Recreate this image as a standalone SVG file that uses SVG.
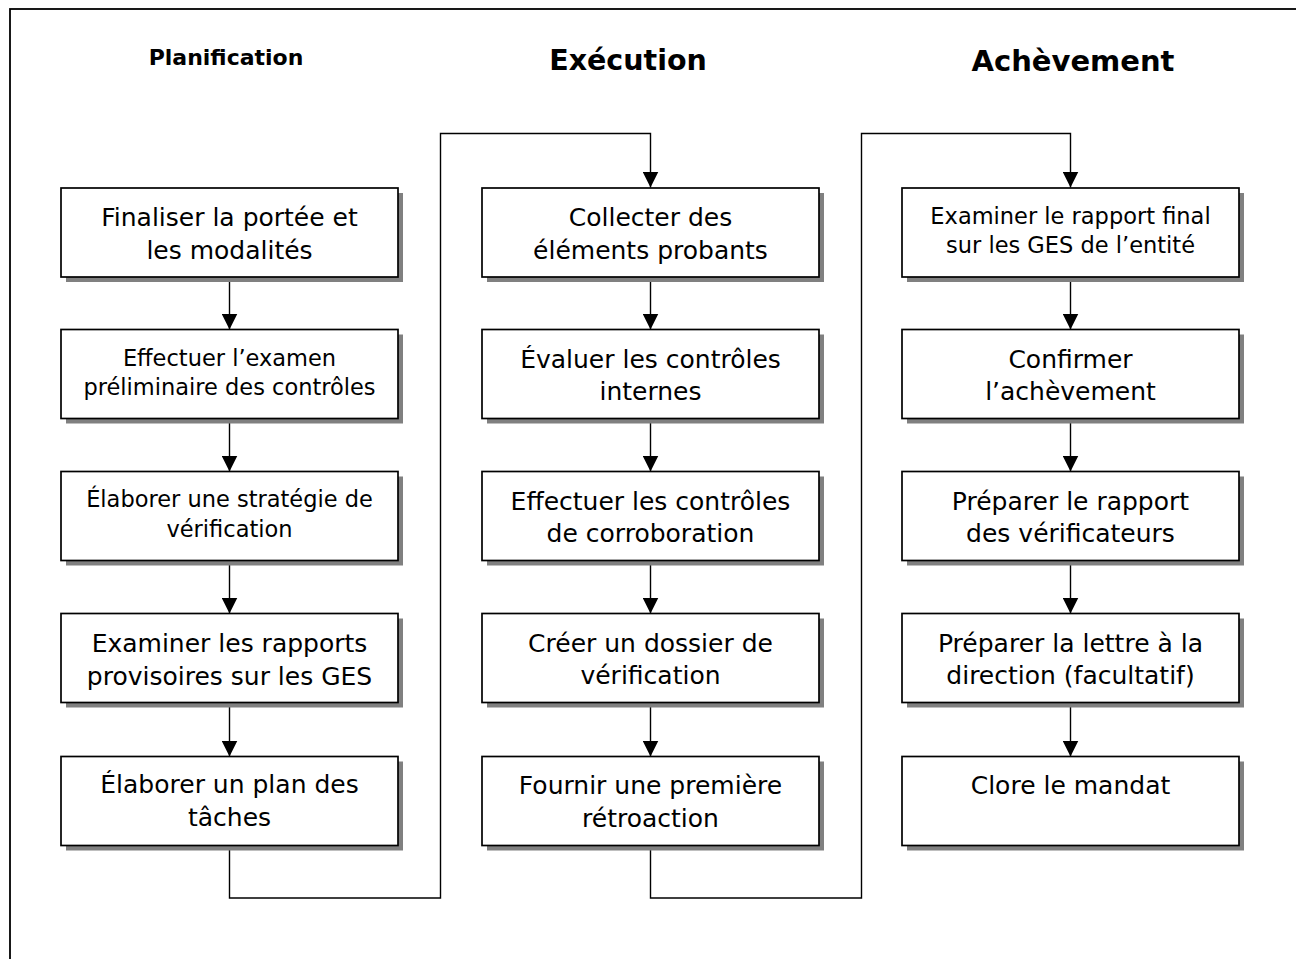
<svg xmlns="http://www.w3.org/2000/svg" width="1296" height="959" viewBox="0 0 1296 959">
<style>
.frame{fill:none;stroke:#000;stroke-width:1.8}
.sh{fill:#808080}
.bx{fill:#fff;stroke:#000;stroke-width:1.7}
.t{font-family:"DejaVu Sans",sans-serif;font-size:25px;fill:#000;text-anchor:middle}
.s{font-family:"DejaVu Sans",sans-serif;font-size:22.5px;fill:#000;text-anchor:middle}
.h{font-family:"DejaVu Sans",sans-serif;font-weight:bold;fill:#000;text-anchor:middle}
.c{fill:none;stroke:#000;stroke-width:1.4}
</style>
<defs>
<marker id="ah" markerUnits="userSpaceOnUse" markerWidth="16" markerHeight="16" viewBox="0 0 16 16" refX="16" refY="8" orient="auto">
<path d="M0,0 L16,8 L0,16 Z" fill="#000"/>
</marker>
</defs>
<rect class="frame" x="10" y="9" width="1400" height="1100"/>
<g id="headers">
<text class="h" x="226" y="65" font-size="22">Planification</text>
<text class="h" x="628" y="70" font-size="28.5">Exécution</text>
<text class="h" x="1073" y="71" font-size="29">Achèvement</text>
</g>
<g id="connectors">
<line class="c" x1="229.5" y1="277" x2="229.5" y2="329.5" marker-end="url(#ah)"/>
<line class="c" x1="229.5" y1="418.5" x2="229.5" y2="471.5" marker-end="url(#ah)"/>
<line class="c" x1="229.5" y1="560.5" x2="229.5" y2="613.5" marker-end="url(#ah)"/>
<line class="c" x1="229.5" y1="702.5" x2="229.5" y2="756.5" marker-end="url(#ah)"/>
<line class="c" x1="650.5" y1="277" x2="650.5" y2="329.5" marker-end="url(#ah)"/>
<line class="c" x1="650.5" y1="418.5" x2="650.5" y2="471.5" marker-end="url(#ah)"/>
<line class="c" x1="650.5" y1="560.5" x2="650.5" y2="613.5" marker-end="url(#ah)"/>
<line class="c" x1="650.5" y1="702.5" x2="650.5" y2="756.5" marker-end="url(#ah)"/>
<line class="c" x1="1070.5" y1="277" x2="1070.5" y2="329.5" marker-end="url(#ah)"/>
<line class="c" x1="1070.5" y1="418.5" x2="1070.5" y2="471.5" marker-end="url(#ah)"/>
<line class="c" x1="1070.5" y1="560.5" x2="1070.5" y2="613.5" marker-end="url(#ah)"/>
<line class="c" x1="1070.5" y1="702.5" x2="1070.5" y2="756.5" marker-end="url(#ah)"/>
<polyline class="c" points="229.5,845.5 229.5,898 440.5,898 440.5,133.5 650.5,133.5 650.5,187.5" marker-end="url(#ah)"/>
<polyline class="c" points="650.5,845.5 650.5,898 861.5,898 861.5,133.5 1070.5,133.5 1070.5,187.5" marker-end="url(#ah)"/>
</g>
<g id="n1"><rect class="sh" x="66" y="193" width="337" height="89"/><rect class="bx" x="61" y="188" width="337" height="89"/><text class="t" x="229.5" y="226">Finaliser la portée et</text><text class="t" x="229.5" y="258.5">les modalités</text></g>
<g id="n2"><rect class="sh" x="66" y="334.5" width="337" height="89"/><rect class="bx" x="61" y="329.5" width="337" height="89"/><text class="s" x="229.5" y="366">Effectuer l’examen</text><text class="s" x="229.5" y="394.5">préliminaire des contrôles</text></g>
<g id="n3"><rect class="sh" x="66" y="476.5" width="337" height="89"/><rect class="bx" x="61" y="471.5" width="337" height="89"/><text class="s" x="229.5" y="507">Élaborer une stratégie de</text><text class="s" x="229.5" y="536.5">vérification</text></g>
<g id="n4"><rect class="sh" x="66" y="618.5" width="337" height="89"/><rect class="bx" x="61" y="613.5" width="337" height="89"/><text class="t" x="229.5" y="652">Examiner les rapports</text><text class="t" x="229.5" y="684.5">provisoires sur les GES</text></g>
<g id="n5"><rect class="sh" x="66" y="761.5" width="337" height="89"/><rect class="bx" x="61" y="756.5" width="337" height="89"/><text class="t" x="229.5" y="793">Élaborer un plan des</text><text class="t" x="229.5" y="826">tâches</text></g>
<g id="n6"><rect class="sh" x="487" y="193" width="337" height="89"/><rect class="bx" x="482" y="188" width="337" height="89"/><text class="t" x="650.5" y="226">Collecter des</text><text class="t" x="650.5" y="258.5">éléments probants</text></g>
<g id="n7"><rect class="sh" x="487" y="334.5" width="337" height="89"/><rect class="bx" x="482" y="329.5" width="337" height="89"/><text class="t" x="650.5" y="367.5">Évaluer les contrôles</text><text class="t" x="650.5" y="400">internes</text></g>
<g id="n8"><rect class="sh" x="487" y="476.5" width="337" height="89"/><rect class="bx" x="482" y="471.5" width="337" height="89"/><text class="t" x="650.5" y="509.5">Effectuer les contrôles</text><text class="t" x="650.5" y="542">de corroboration</text></g>
<g id="n9"><rect class="sh" x="487" y="618.5" width="337" height="89"/><rect class="bx" x="482" y="613.5" width="337" height="89"/><text class="t" x="650.5" y="651.5">Créer un dossier de</text><text class="t" x="650.5" y="684">vérification</text></g>
<g id="n10"><rect class="sh" x="487" y="761.5" width="337" height="89"/><rect class="bx" x="482" y="756.5" width="337" height="89"/><text class="t" x="650.5" y="794">Fournir une première</text><text class="t" x="650.5" y="826.5">rétroaction</text></g>
<g id="n11"><rect class="sh" x="907" y="193" width="337" height="89"/><rect class="bx" x="902" y="188" width="337" height="89"/><text class="s" x="1070.5" y="224">Examiner le rapport final</text><text class="s" x="1070.5" y="252.5">sur les GES de l’entité</text></g>
<g id="n12"><rect class="sh" x="907" y="334.5" width="337" height="89"/><rect class="bx" x="902" y="329.5" width="337" height="89"/><text class="t" x="1070.5" y="367.5">Confirmer</text><text class="t" x="1070.5" y="400">l’achèvement</text></g>
<g id="n13"><rect class="sh" x="907" y="476.5" width="337" height="89"/><rect class="bx" x="902" y="471.5" width="337" height="89"/><text class="t" x="1070.5" y="509.5">Préparer le rapport</text><text class="t" x="1070.5" y="542">des vérificateurs</text></g>
<g id="n14"><rect class="sh" x="907" y="618.5" width="337" height="89"/><rect class="bx" x="902" y="613.5" width="337" height="89"/><text class="t" x="1070.5" y="651.5">Préparer la lettre à la</text><text class="t" x="1070.5" y="684">direction (facultatif)</text></g>
<g id="n15"><rect class="sh" x="907" y="761.5" width="337" height="89"/><rect class="bx" x="902" y="756.5" width="337" height="89"/><text class="t" x="1070.5" y="794">Clore le mandat</text></g>
</svg>
